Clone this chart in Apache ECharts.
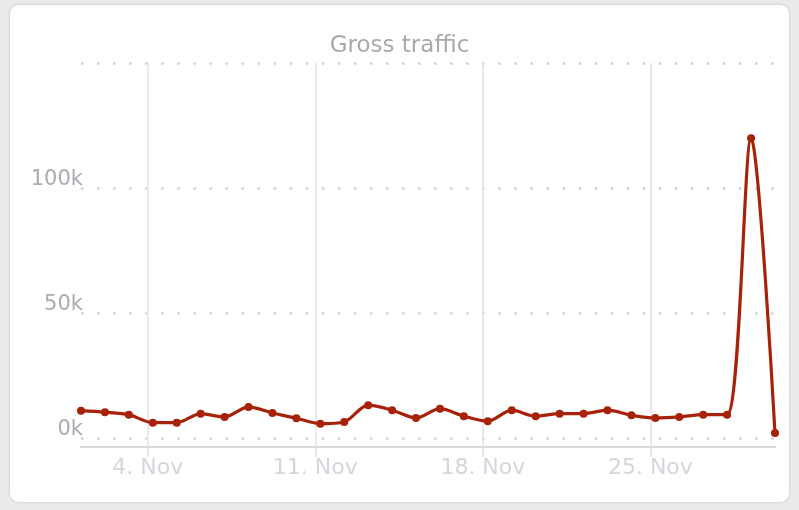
<!DOCTYPE html>
<html>
<head>
<meta charset="utf-8">
<title>Gross traffic</title>
<script src="https://cdn.jsdelivr.net/npm/echarts@6/dist/echarts.min.js"></script>
<style>
  html, body { margin: 0; padding: 0; background: #ebebeb; }
  #card {
    position: absolute; left: 9px; top: 4px; width: 779px; height: 497px;
    background: #ffffff; border: 1px solid #dcdcdc; border-radius: 10px;
    box-shadow: 0 0 3px rgba(0,0,0,0.08);
  }
  #chart { position: absolute; left: 0; top: 0; width: 799px; height: 510px; }
</style>
</head>
<body>
<div id="card"></div>
<div id="chart"></div>
<script>
// Daily gross traffic for November (day of month -> visits)
const days = [1, 2, 3, 4, 5, 6, 7, 8, 9, 10, 11, 12, 13, 14, 15,
              16, 17, 18, 19, 20, 21, 22, 23, 24, 25, 26, 27, 28, 29, 30];
const traffic = [11200, 10600, 9600, 6400, 6400, 10000, 8700, 12700, 10300, 8200,
                 6000, 6700, 13400, 11400, 8300, 12000, 9000, 7000, 11400, 9000,
                 10000, 10000, 11400, 9400, 8300, 8700, 9600, 9600, 120000, 2300];
const monthName = 'Nov';
// readings are stamped at 05:00 each day
const stampHour = 5;
// week markers on the time axis
const weekTicks = [4, 11, 18, 25];
// value axis levels
const yLevels = [0, 50000, 100000, 150000];
const yLabelLevels = [0, 50000, 100000];

const seriesData = days.map((d, i) => [d + stampHour / 24, traffic[i]]);

const chart = echarts.init(document.getElementById('chart'), null, { renderer: 'canvas' });
const font = 'DejaVu Sans';

chart.setOption({
  backgroundColor: 'transparent',
  animation: false,
  title: {
    text: 'Gross traffic',
    left: 'center',
    top: 30,
    textStyle: { fontFamily: font, fontSize: 23, fontWeight: 'normal', color: '#a6a9ae' }
  },
  grid: { left: 81, right: 24, top: 63, bottom: 63, containLabel: false },
  xAxis: {
    type: 'value',
    min: days[0] + stampHour / 24,
    max: days[days.length - 1] + stampHour / 24,
    axisLine: { show: true, onZero: false, lineStyle: { color: '#d9d9d9', width: 2 } },
    axisTick: {
      show: true, length: 10, customValues: weekTicks,
      lineStyle: { color: '#e0e0e0', width: 1.5 }
    },
    axisLabel: {
      customValues: weekTicks,
      margin: 10,
      fontFamily: font, fontSize: 22, color: '#d3d6db',
      formatter: v => v + '. ' + monthName
    },
    splitLine: { show: true, lineStyle: { color: '#e3e3e3', width: 1.5 } }
  },
  yAxis: {
    type: 'value',
    min: -3300,
    max: 150000,
    axisLine: { show: false },
    axisTick: { show: false, customValues: yLevels },
    axisLabel: {
      customValues: yLabelLevels,
      margin: -2,
      align: 'right',
      verticalAlign: 'bottom',
      lineHeight: 18,
      fontFamily: font, fontSize: 21, color: '#a9acb1',
      formatter: v => (v / 1000) + 'k'
    },
    splitLine: {
      show: true,
      lineStyle: { color: '#d2d2d2', width: 2.5, type: [2.5, 13.55] }
    }
  },
  series: [{
    type: 'line',
    data: seriesData,
    smooth: 0.3,
    symbol: 'circle',
    symbolSize: 8,
    itemStyle: { color: '#a8220a' },
    lineStyle: { color: '#a8220a', width: 3.2 },
    emphasis: { disabled: true }
  }]
});
</script>
</body>
</html>
